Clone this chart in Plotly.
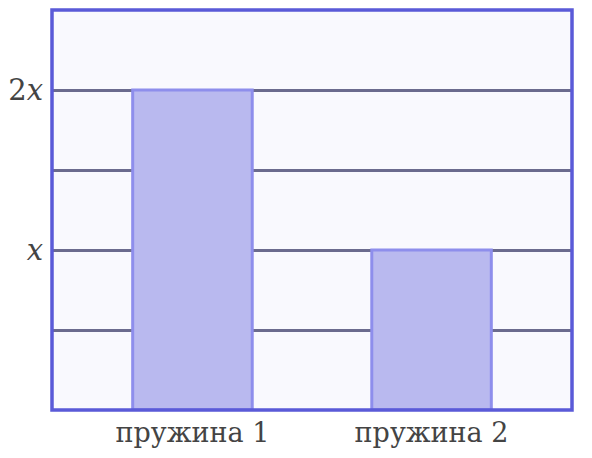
import plotly.graph_objects as go

categories = ["пружина 1", "пружина 2"]
values = [2, 1]
y_tick_vals = [0.5, 1, 1.5, 2]
y_tick_text = ["", "<i>x</i>", "", "2<i>x</i>"]

SERIF = "DejaVu Serif"

fig = go.Figure()
fig.add_trace(go.Bar(
    x=[0, 1], y=values, width=0.5,
    marker=dict(color="#b9b9ef", line=dict(color="#8e8eec", width=3)),
    hoverinfo="skip",
))

fig.update_layout(
    width=592, height=458,
    margin=dict(l=44, r=28, t=2, b=56),
    paper_bgcolor="white",
    plot_bgcolor="#f9f9fe",
    showlegend=False,
    font=dict(family=SERIF, color="#444444", size=24),
    shapes=[dict(type="rect", xref="paper", yref="paper", x0=0, x1=1, y0=0, y1=1,
                 line=dict(color="#5a5ad8", width=3.5), layer="above")],
)
fig.update_xaxes(
    range=[-0.5875, 1.5875], tickvals=[0, 1], ticktext=categories,
    showgrid=False, zeroline=False, ticks="", automargin=False,
    tickfont=dict(family=SERIF, size=27, color="#444444"),
    ticklabelstandoff=4,
)
fig.update_yaxes(
    range=[0, 2.5], tickvals=y_tick_vals, ticktext=y_tick_text,
    showgrid=True, gridcolor="#6b6b8e", gridwidth=3, zeroline=False, ticks="",
    automargin=False,
    tickfont=dict(family=SERIF, size=29, color="#444444"), ticklabelstandoff=8,
)

fig.write_html("out.html")
